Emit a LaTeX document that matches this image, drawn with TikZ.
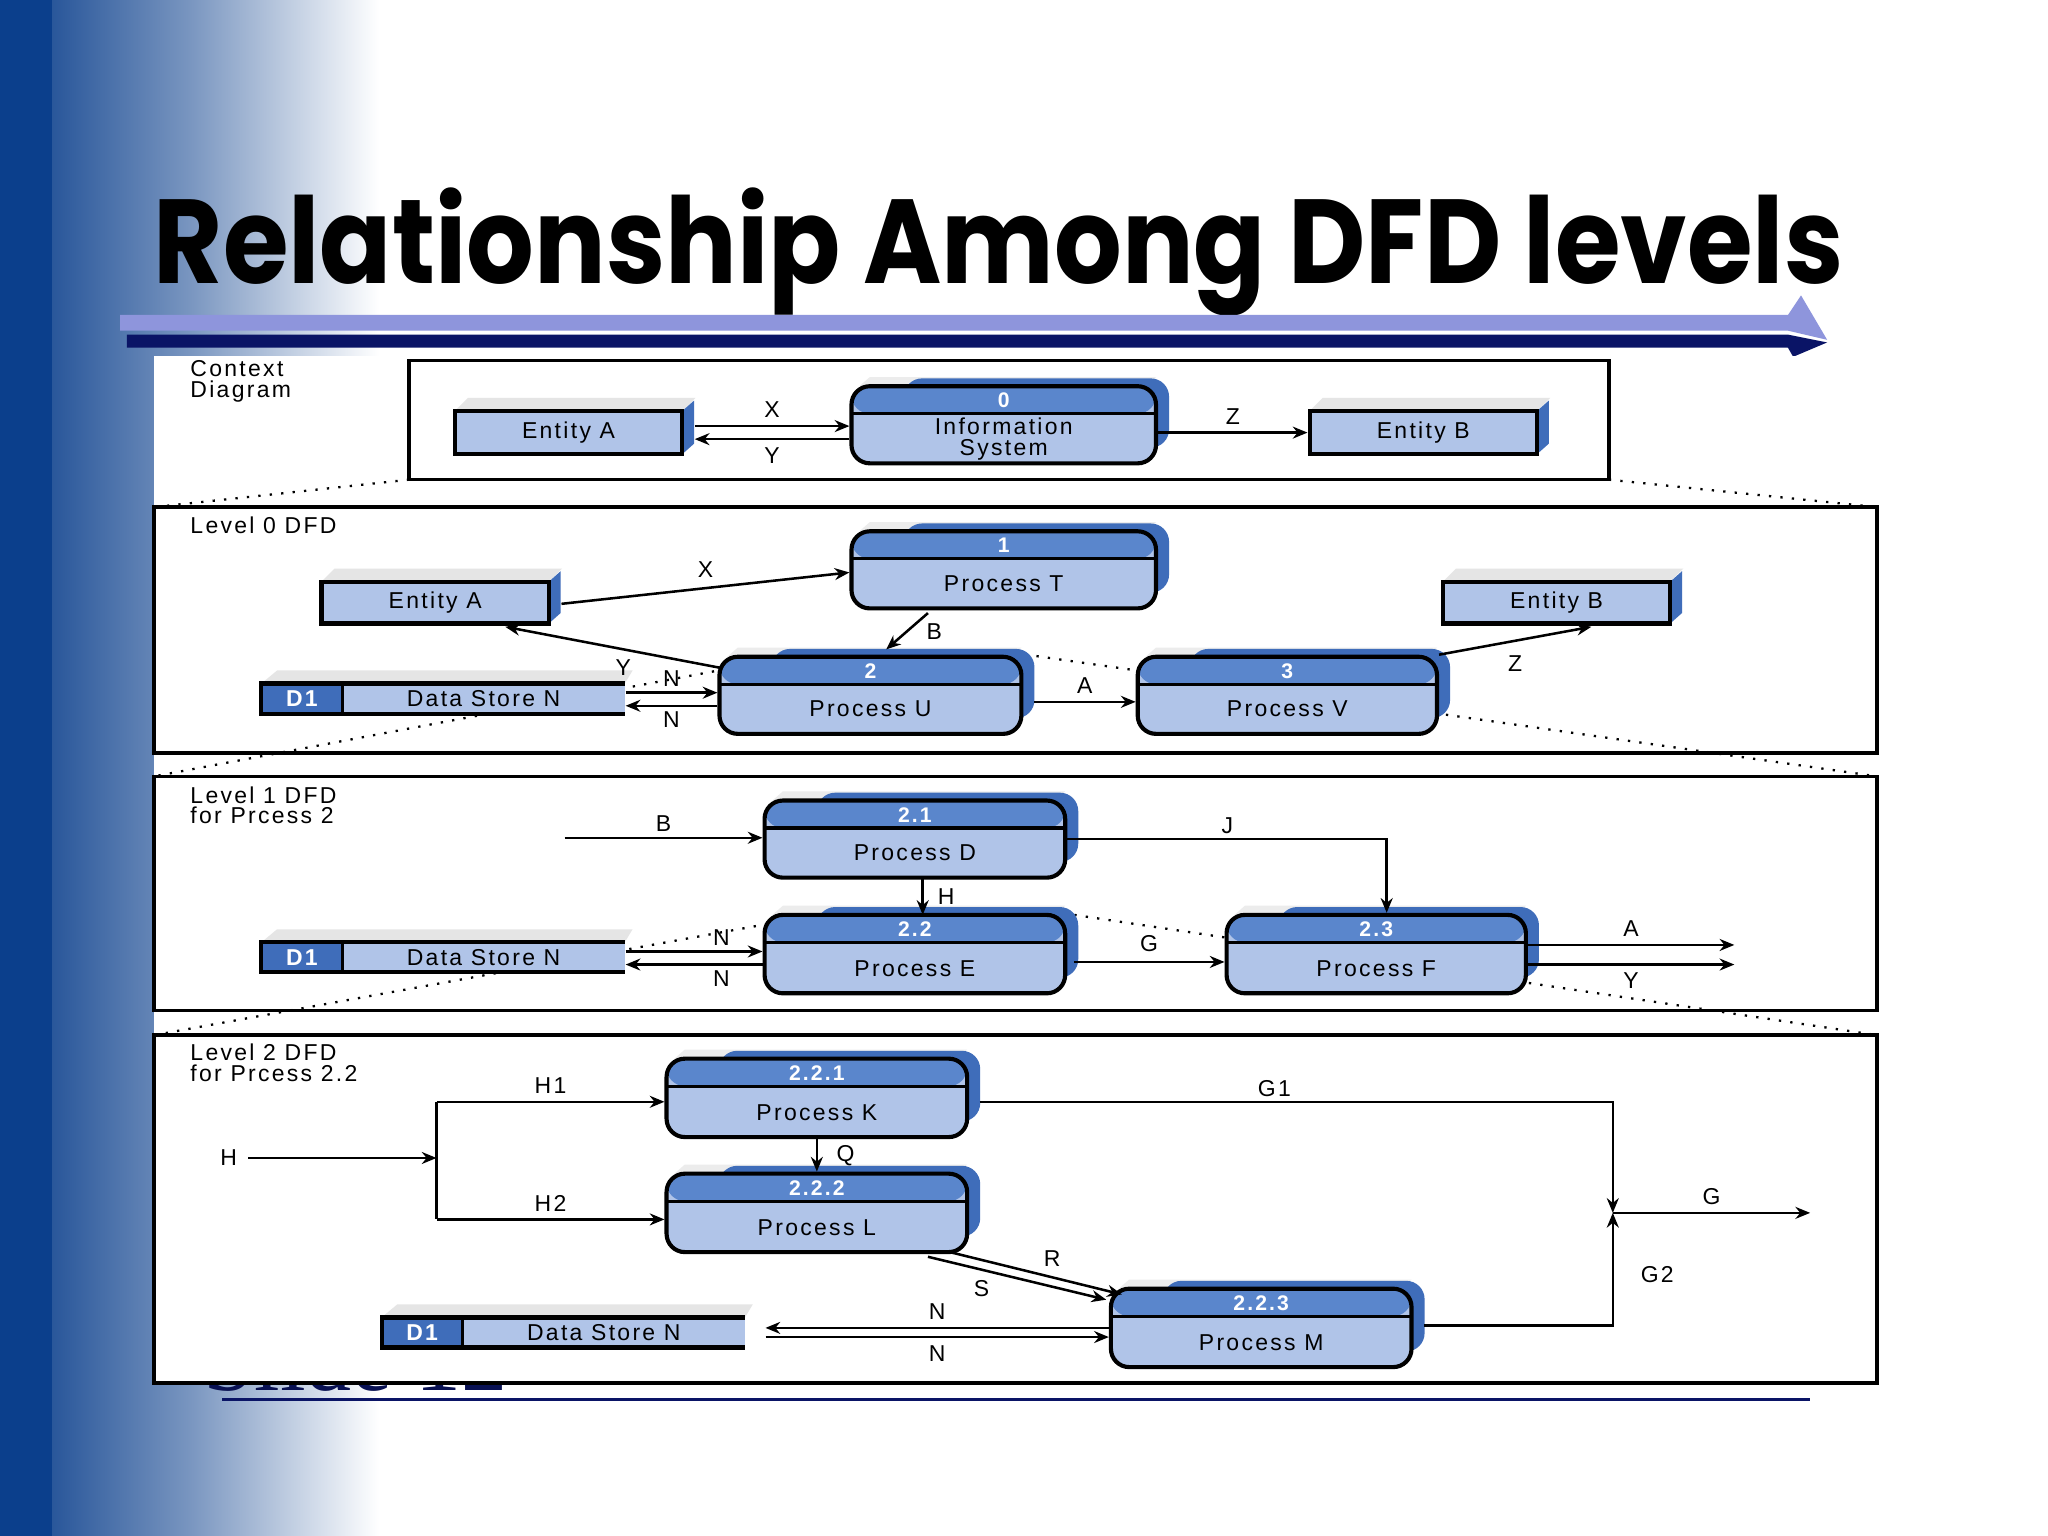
\documentclass[tikz,border=0pt]{standalone}
\usepackage{fontspec}
\setmainfont{Liberation Sans}
\newfontfamily\titlefont{Poppins}
\newfontfamily\boxfont{Liberation Sans}[LetterSpace=10]
\newfontfamily\slidefont{Liberation Serif}
\usetikzlibrary{arrows.meta,calc}
\definecolor{headc}{HTML}{5A86CC}
\definecolor{bodyc}{HTML}{B0C4E8}
\definecolor{sidec}{HTML}{3F6DBA}
\definecolor{navy}{HTML}{0A1466}
\definecolor{lav}{HTML}{8E95DC}
\definecolor{bgblue}{HTML}{0B3F8C}
\tikzset{
 txt/.style={font=\boxfont\fontsize{5}{6}\selectfont, inner sep=0pt},
 lbl/.style={font=\boxfont\fontsize{5}{6}\selectfont, inner sep=0pt},
 numtxt/.style={font=\boxfont\bfseries\fontsize{4.6}{5}\selectfont, text=white, inner sep=0pt},
 flow/.style={line width=0.55pt, -{Stealth[length=3.2pt,width=2.6pt]}},
 plain/.style={line width=0.55pt},
 panel/.style={draw, line width=0.75pt},
 dots/.style={dotted, line width=0.5pt},
 proc/.style={draw, line width=0.9pt, rounded corners=0.14cm, fill=bodyc, inner sep=0pt,
   path picture={\fill[headc] (path picture bounding box.north west) rectangle ($(path picture bounding box.north east)+(0,-0.21cm)$);
   \draw[line width=0.7pt] ($(path picture bounding box.north west)+(0,-0.21cm)$) -- ($(path picture bounding box.north east)+(0,-0.21cm)$);}},
 entity/.style={draw, line width=0.9pt, fill=bodyc, inner sep=0pt, font=\boxfont\fontsize{5}{6}\selectfont}
}
\newcommand\proc[7]{%
 \fill[gray!15] (#2-#4/2+6,#3-#5/2) -- ++(8,-7) -- ++(#4-14,0) -- ++(-8,7) -- cycle;
 \fill[sidec,rounded corners=0.14cm] (#2-#4/2+40,#3-#5/2-6) rectangle (#2+#4/2+10,#3+#5/2-12);
 \node[proc, minimum width=#4*0.01cm, minimum height=#5*0.01cm] (#1) at (#2,#3) {};
 \node[numtxt] at (#2,#3-#5/2+11) {#6};
 \node[txt, align=center] at (#2,#3+#5/2-19) {#7};}
\newcommand\ent[6]{%
 \fill[gray!20] (#2-#4/2,#3-#5/2) -- ++(10,-10) -- ++(#4,0) -- (#2+#4/2,#3-#5/2) -- cycle;
 \fill[sidec] (#2+#4/2,#3-#5/2) -- ++(9,-8) -- ++(0,#5) -- (#2+#4/2,#3+#5/2) -- cycle;
 \node[entity, minimum width=#4*0.01cm, minimum height=#5*0.01cm] (#1) at (#2,#3) {#6};}
\newcommand\dstore[5]{%
 \fill[gray!20] (#2,#3) -- ++(12,-10) -- (#4+6,#3-10) -- (#4,#3) -- cycle;
 \fill[sidec] (#2,#3) rectangle (#2+62,#5);
 \fill[bodyc] (#2+62,#3) rectangle (#4,#5);
 \draw[line width=0.9pt] (#4,#3) -- (#2,#3) -- (#2,#5) -- (#4,#5);
 \draw[line width=0.7pt] (#2+62,#3) -- (#2+62,#5);
 \node[numtxt, font=\boxfont\bfseries\fontsize{5}{6}\selectfont] at (#2+31,#3/2+#5/2) {D1};
 \node[txt] at (#2/2+#4/2+31,#3/2+#5/2) {Data Store N};
 \node[inner sep=0pt, minimum width=(#4-#2)*0.01cm, minimum height=(#5-#3)*0.01cm] (#1) at (#2/2+#4/2,#3/2+#5/2) {};}
\begin{document}
\begin{tikzpicture}[x=0.01cm,y=-0.01cm]
\useasboundingbox (0,0) rectangle (1567,1175);
\fill[white] (0,0) rectangle (1567,1175);
\shade[left color=bgblue, right color=white, middle color=bgblue!55!white] (0,0) rectangle (290,1175);
\fill[bgblue] (0,0) rectangle (40,1175);
% title
\node[anchor=west, inner sep=0pt, font=\titlefont\bfseries\fontsize{26}{30}\selectfont, xscale=0.89] (title) at (117,193) {Relationship Among DFD levels};
\fill[lav] (92,241) -- (1368,241) -- (1378,226) -- (1398,260) -- (1368,253) -- (92,253) -- cycle;
\fill[navy] (97,256) -- (1368,256) -- (1398,262) -- (1372,273) -- (1368,266) -- (97,266) -- cycle;
% footer
\node[font=\slidefont\fontsize{20}{22}\selectfont, inner sep=0pt, text=navy!80!black] (slide) at (272,1040) {Slide 12};
\fill[white] (118,272) rectangle (1437,1058);
\draw[navy, line width=0.6pt] (170,1071) -- (1385,1071);
% panels
\draw[panel] (313,276) rectangle (1231,367);
\node[lbl, anchor=north west, align=left] (lc) at (145,275) {Context\\[-1.5pt]Diagram};
\draw[panel] (118,388) rectangle (1436,576);
\node[lbl, anchor=north west] (l0) at (145,395) {Level 0 DFD};
\draw[panel] (118,594) rectangle (1436,773);
\node[lbl, anchor=north west, align=left] (l1) at (145,601) {Level 1 DFD\\[-1.5pt]for Prcess 2};
\draw[panel] (118,792) rectangle (1436,1058);
\node[lbl, anchor=north west, align=left] (l2) at (145,798) {Level 2 DFD\\[-1.5pt]for Prcess 2.2};
\draw[dots] (313,367) -- (118,388);
\draw[dots] (1231,367) -- (1436,388);
\draw[dots] (555,512) -- (118,594);
\draw[dots] (793,502) -- (1436,594);
\draw[dots] (587,707) -- (118,792);
\draw[dots] (822,700) -- (1436,792);
% context
\proc{p0}{768}{325}{233}{59}{0}{}
\node[txt, align=center] (p0t) at (768,336) {Information\\[-1.5pt]System};
\ent{ea0}{435}{331}{174}{33}{Entity A}
\ent{eb0}{1089}{331}{174}{33}{Entity B}
\draw[flow] ($(ea0.east)+(8,-5)$) -- (p0.west |- 0,326) node[lbl, midway, above=1.5pt] {X};
\draw[flow] (p0.west |- 0,336) -- ($(ea0.east)+(8,5)$) node[lbl, midway, below=1.5pt] {Y};
\draw[flow] (p0.east |- 0,331) -- (eb0.west) node[lbl, midway, above=1.5pt] {Z};
% level 0
\proc{pT}{768}{436}{233}{59}{1}{Process T}
\proc{pU}{666}{532}{231}{59}{2}{Process U}
\proc{pV}{985}{532}{229}{59}{3}{Process V}
\ent{ea1}{333}{461}{174}{32}{Entity A}
\ent{eb1}{1191}{461}{174}{32}{Entity B}
\dstore{ds0}{200}{523}{478}{546}
\draw[flow] ($(ea1.east)+(8,1)$) -- ($(pT.west)+(0,2)$) node[lbl, midway, above=2pt] {X};
\draw[flow] ($(pU.north west)+(2,10)$) -- ($(ea1.south east)+(-35,1)$) node[lbl, pos=0.45, below=2pt] {Y};
\draw[flow] ($(pT.south)+(-58,2)$) -- ($(pU.north)+(12,-4)$) node[lbl, midway, right=4pt] {B};
\draw[flow] ($(pU.east)+(8,5)$) -- (pV.west |- 0,537) node[lbl, midway, above=1.5pt] {A};
\draw[flow] ($(pV.north east)+(0,0)$) -- ($(eb1.south east)+(-62,1)$) node[lbl, midway, below=3pt] {Z};
\draw[flow] (ds0.east |- 0,530) -- (pU.west |- 0,530) node[lbl, midway, above=1pt] {N};
\draw[flow] (pU.west |- 0,540) -- (ds0.east |- 0,540) node[lbl, midway, below=1pt] {N};
% level 1
\proc{pD}{700}{642}{230}{59}{2.1}{Process D}
\proc{pE}{700}{730}{230}{60}{2.2}{Process E}
\proc{pF}{1053}{730}{229}{60}{2.3}{Process F}
\dstore{ds1}{200}{721}{478}{744}
\coordinate (bin) at (432,641);
\draw[flow] (bin) -- (pD.west |- bin) node[lbl, midway, above=1pt] {B};
\draw[flow] ($(pD.east)+(0,0)$) -| ($(pF.north)+(8,0)$);
\node[lbl] (jl) at (939,632) {J};
\draw[flow] (706,672) -- (706,700) node[lbl, midway, right=3pt] {H};
\draw[flow] ($(pE.east)+(5,6)$) -- (pF.west |- 0,736) node[lbl, midway, above=2pt] {G};
\coordinate (aout) at (1327,723);
\coordinate (yout) at (1327,738);
\draw[flow] (pF.east |- aout) -- (aout) node[lbl, midway, above=1.5pt] {A};
\draw[flow] (pF.east |- yout) -- (yout) node[lbl, midway, below=1.5pt] {Y};
\draw[flow] (ds1.east |- 0,728) -- (pE.west |- 0,728) node[lbl, pos=0.7, above=1pt] {N};
\draw[flow] (pE.west |- 0,738) -- (ds1.east |- 0,738) node[lbl, pos=0.3, below=1pt] {N};
% level 2
\proc{pK}{625}{840}{230}{60}{2.2.1}{Process K}
\proc{pL}{625}{928}{230}{60}{2.2.2}{Process L}
\proc{pM}{965}{1016}{230}{60}{2.2.3}{Process M}
\dstore{ds2}{292}{1008}{570}{1031}
\coordinate (hin) at (190,886);
\coordinate (hj) at (334,886);
\coordinate (gj) at (1234,928);
\coordinate (gout) at (1385,928);
\node[lbl, anchor=east] (hl) at (182,886) {H};
\draw[flow] (hin) -- (hj);
\draw[plain] (334,843) -- (334,933);
\draw[flow] (334,843) -- (pK.west |- 0,843) node[lbl, midway, above=1.5pt] {H1};
\draw[flow] (334,933) -- (pL.west |- 0,933) node[lbl, midway, above=1.5pt] {H2};
\draw[flow] (pK.south) -- (pL.north) node[lbl, midway, right=4pt] {Q};
\draw[flow] ($(pK.east)+(8,3)$) -| (gj);
\node[lbl] (g1l) at (975,833) {G1};
\draw[flow] ($(pM.east)+(8,-2)$) -| (gj);
\node[lbl] (g2l) at (1268,975) {G2};
\draw[flow] (gj) -- (gout) node[lbl, midway, above=1.5pt] {G};
\draw[flow] ($(pL.south)+(100,-2)$) -- ($(pM.north west)+(10,6)$) node[lbl, pos=0.6, above=2pt] {R};
\draw[flow] ($(pL.south)+(85,2)$) -- ($(pM.north west)+(-2,10)$) node[lbl, pos=0.3, below=2pt] {S};
\draw[flow] (pM.west |- 0,1016) -- ($(ds2.east |- 0,1016)+(15,0)$) node[lbl, midway, above=1.5pt] {N};
\draw[flow] ($(ds2.east |- 0,1023)+(15,0)$) -- (pM.west |- 0,1023) node[lbl, midway, below=1.5pt] {N};
\end{tikzpicture}
\end{document}
